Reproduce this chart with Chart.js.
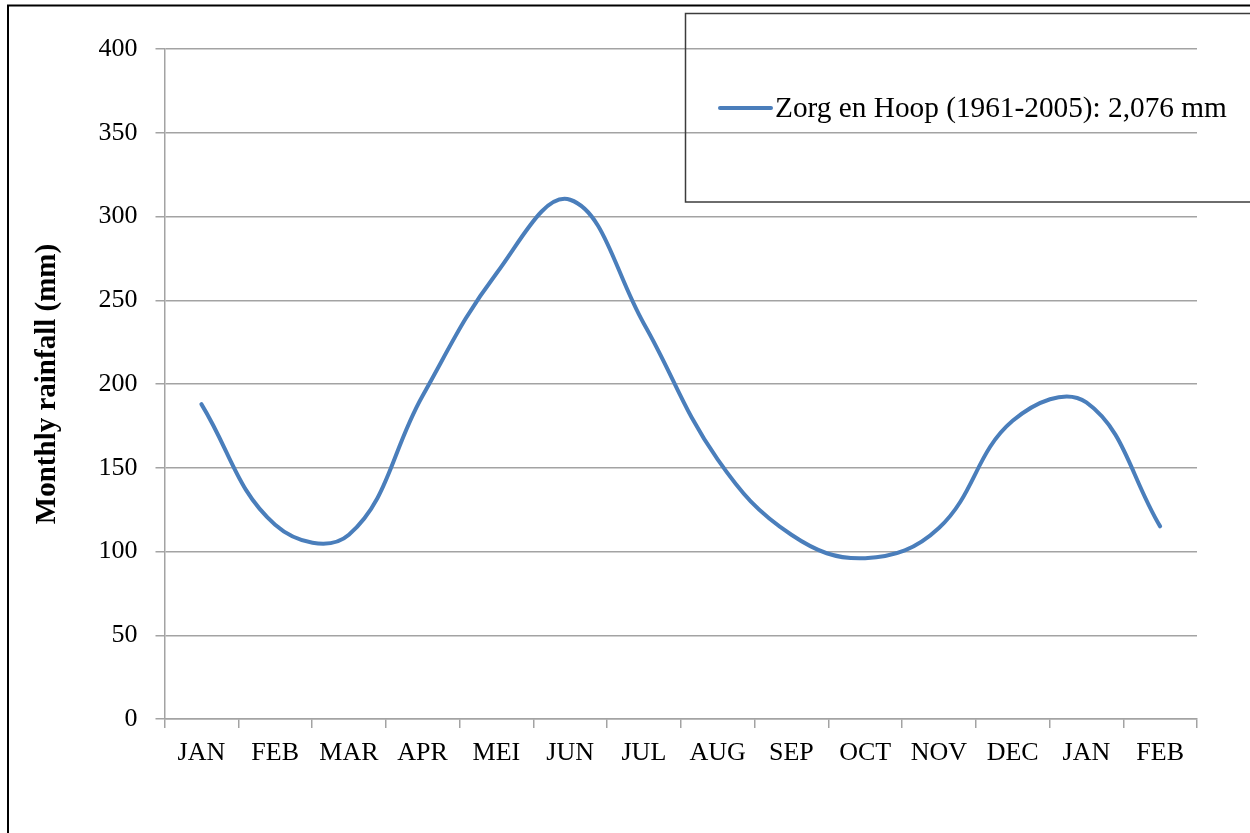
<!DOCTYPE html>
<html>
<head>
<meta charset="utf-8">
<title>Monthly rainfall – Zorg en Hoop</title>
<script src="https://cdn.jsdelivr.net/npm/chart.js@4/dist/chart.umd.min.js"></script>
<style>
  html, body { margin: 0; padding: 0; background: #ffffff; }
  #wrap { width: 1250px; height: 833px; }
</style>
</head>
<body>
<div id="wrap"><canvas id="rain" width="1250" height="833"></canvas></div>
<script>
// Month labels (Dutch abbreviations, two extra months to show the wrap-around)
const months = ['JAN', 'FEB', 'MAR', 'APR', 'MEI', 'JUN', 'JUL', 'AUG', 'SEP', 'OCT', 'NOV', 'DEC', 'JAN', 'FEB'];

// Mean monthly rainfall, Zorg en Hoop 1961-2005 (mm)
const rainfall = [188, 116, 110, 193, 266, 310, 236, 155, 110, 96, 114, 178, 189, 115];

const seriesLabel = 'Zorg en Hoop (1961-2005): 2,076 mm';
const yTitle = 'Monthly rainfall (mm)';
const yMin = 0;
const yMax = 400;
const yStep = 50;

const serif = "'Liberation Serif', 'Times New Roman', serif";
const lineColor = '#4a7ebb';
const gridColor = '#a3a3a3';

// Frame lines and the boxed legend drawn on top of the chart
const framePlugin = {
  id: 'frameAndLegend',
  afterDraw(chart) {
    const ctx = chart.ctx;
    ctx.save();
    // outer frame (left and top edges)
    ctx.strokeStyle = '#000000';
    ctx.lineWidth = 2;
    ctx.beginPath();
    ctx.moveTo(8, 840);
    ctx.lineTo(8, 5.5);
    ctx.lineTo(1260, 5.5);
    ctx.stroke();

    // legend box
    ctx.strokeStyle = '#3c3c3c';
    ctx.lineWidth = 1.5;
    ctx.strokeRect(685.5, 13.5, 600, 188.5);

    const ds = chart.data.datasets[0];
    ctx.strokeStyle = ds.borderColor;
    ctx.lineWidth = 4;
    ctx.lineCap = 'round';
    ctx.beginPath();
    ctx.moveTo(720, 108);
    ctx.lineTo(771, 108);
    ctx.stroke();

    ctx.fillStyle = '#000000';
    ctx.font = '29.3px ' + serif;
    ctx.textBaseline = 'middle';
    ctx.textAlign = 'left';
    ctx.fillText(ds.label, 775, 109);
    ctx.restore();
  }
};

new Chart(document.getElementById('rain'), {
  type: 'line',
  data: {
    labels: months,
    datasets: [{
      label: seriesLabel,
      data: rainfall,
      borderColor: lineColor,
      backgroundColor: lineColor,
      borderWidth: 4,
      borderCapStyle: 'round',
      borderJoinStyle: 'round',
      pointRadius: 0,
      pointHoverRadius: 0,
      tension: 0.4,
      fill: false
    }]
  },
  options: {
    responsive: false,
    animation: false,
    devicePixelRatio: 1,
    layout: { padding: { left: 0, right: 53, top: 49, bottom: 0 } },
    plugins: {
      legend: { display: false },
      tooltip: { enabled: false }
    },
    scales: {
      x: {
        offset: true,
        grid: {
          offset: true,
          drawOnChartArea: false,
          drawTicks: true,
          tickLength: 9,
          color: gridColor,
          lineWidth: 1.5
        },
        border: { display: true, color: gridColor, width: 1.5 },
        ticks: {
          color: '#000000',
          font: { family: serif, size: 26 },
          padding: 10,
          maxRotation: 0,
          autoSkip: false
        },
        afterFit(scale) { scale.height = 833 - 719; }
      },
      y: {
        min: yMin,
        max: yMax,
        grid: {
          drawTicks: true,
          tickLength: 9,
          color: gridColor,
          lineWidth: 1.5
        },
        border: { display: true, color: gridColor, width: 1.5 },
        ticks: {
          stepSize: yStep,
          color: '#000000',
          font: { family: serif, size: 26 },
          padding: 18
        },
        title: {
          display: true,
          text: yTitle,
          color: '#000000',
          font: { family: serif, size: 29, weight: 'bold' },
          padding: { top: 30, bottom: 0 }
        },
        afterFit(scale) { scale.width = 164.5; }
      }
    }
  },
  plugins: [framePlugin]
});
</script>
</body>
</html>
